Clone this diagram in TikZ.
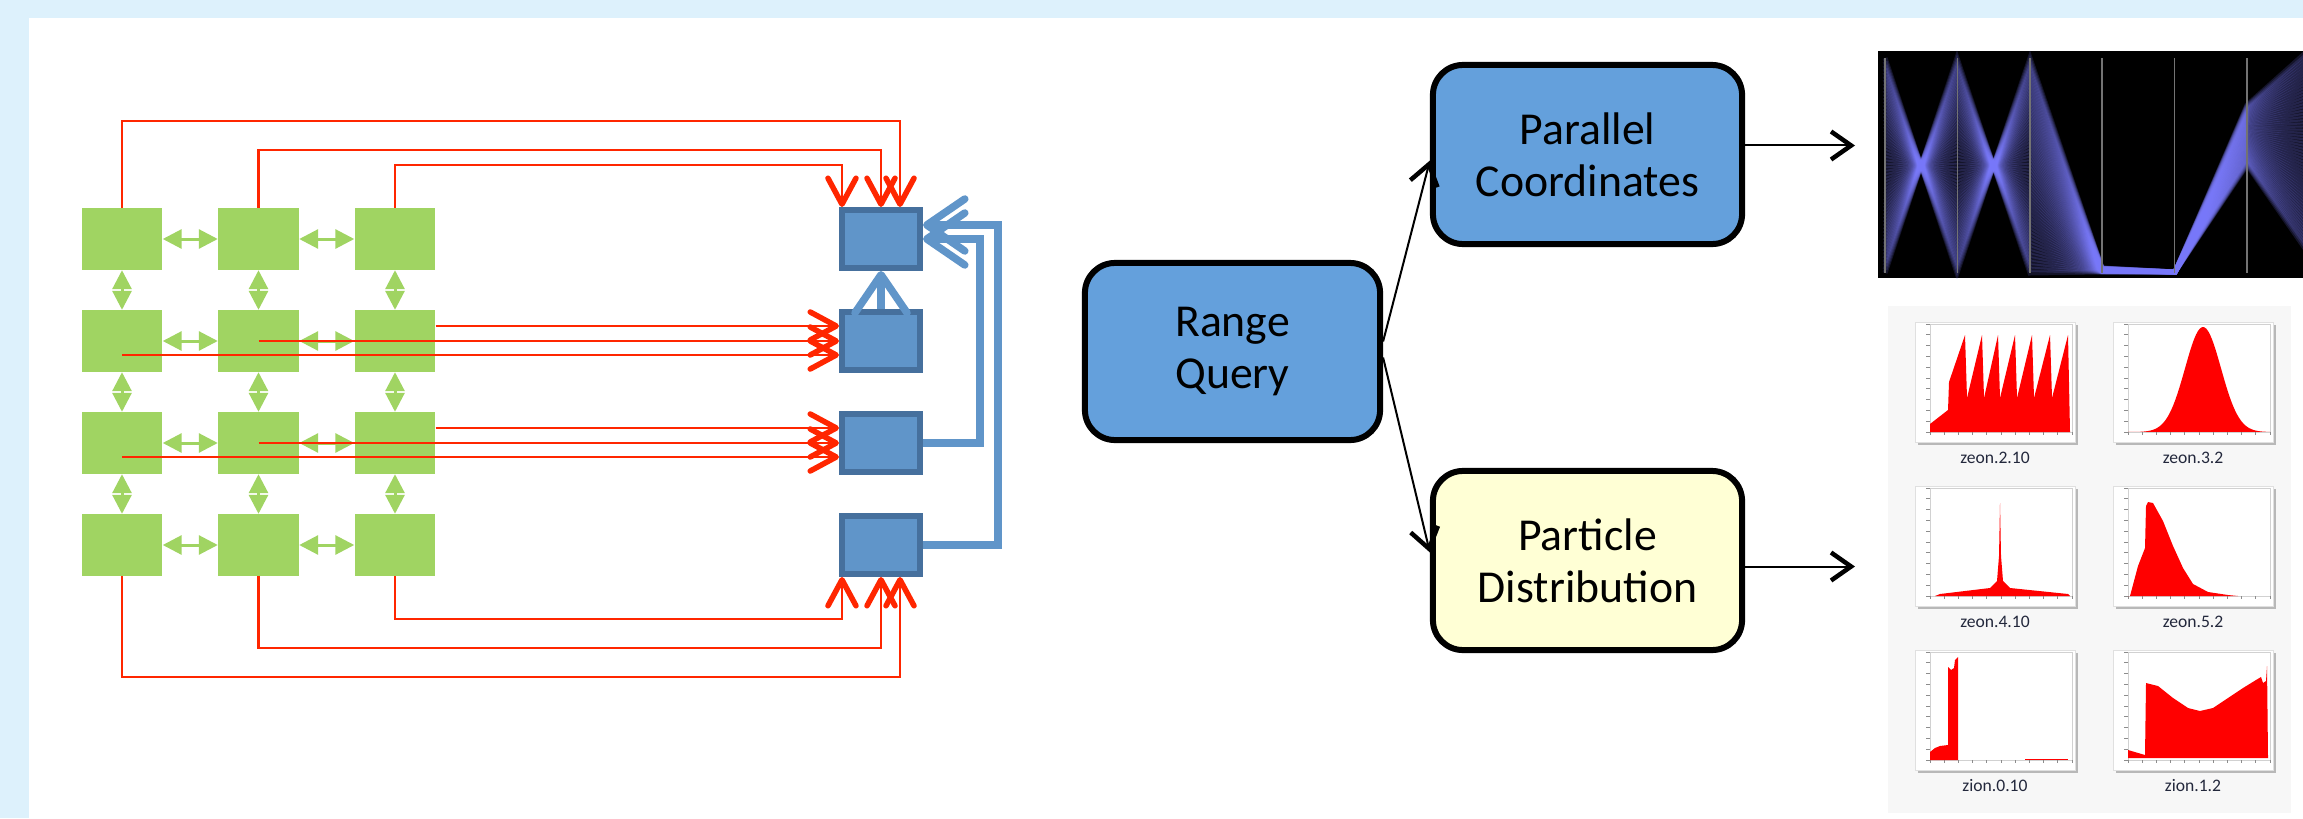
\documentclass[tikz,border=0pt]{standalone}
\usepackage{fontspec}
\setmainfont{Carlito}
\usetikzlibrary{arrows.meta,positioning}
\definecolor{bgblue}{RGB}{221,241,252}
\definecolor{gridgreen}{RGB}{160,212,98}
\definecolor{wirered}{RGB}{255,38,0}
\definecolor{procfill}{RGB}{96,149,201}
\definecolor{procdraw}{RGB}{70,112,157}
\definecolor{taskblue}{RGB}{100,160,220}
\definecolor{taskyellow}{RGB}{255,255,213}
\definecolor{pcviolet}{RGB}{125,125,255}
\definecolor{histred}{RGB}{255,0,0}
\definecolor{captiongray}{RGB}{35,40,60}
\begin{document}
\begin{tikzpicture}[x=0.01cm,y=-0.01cm,
  cell/.style={fill=gridgreen,minimum width=0.8cm,minimum height=0.61cm,inner sep=0},
  proc/.style={fill=procfill,draw=procdraw,line width=0.065cm,minimum width=0.775cm,minimum height=0.575cm,inner sep=0},
  task/.style={draw=black,line width=0.06cm,rounded corners=0.3cm,minimum width=3.09cm,minimum height=1.79cm,align=center,font=\fontsize{13}{14.8}\selectfont},
  link/.style={gridgreen,line width=0.03cm,<->,>={Triangle[length=0.19cm,width=0.19cm]}},
  feed/.style={wirered,line width=0.022cm,->,>={Straight Barb[length=0.26cm,width=0.28cm,line width=0.055cm,round]}},
  merge/.style={procfill,line width=0.075cm,->,>={Straight Barb[length=0.38cm,width=0.52cm,round]}},
  flow/.style={black,line width=0.02cm,->,>={Straight Barb[length=0.2cm,width=0.28cm,line width=0.045cm]}},
  pcline/.style={pcviolet,line width=0.05cm,opacity=0.16},
  thumbcap/.style={font=\fontsize{5}{5}\selectfont,text=captiongray}]
\useasboundingbox (0,0) rectangle (2303,818);
\fill[bgblue] (0,0) rectangle (2303,818);
\fill[white] (29,18) rectangle (2303,818);

% grid of green cells
\foreach \x in {1,...,3}
  \foreach \y in {1,...,4}
    \node[cell] (g\x\y) at ({122+136.5*(\x-1)},{239+102*(\y-1)}) {};
\foreach \x [count=\xi from 2] in {1,2}
  \foreach \y in {1,...,4}
    \draw[link] (g\x\y) -- (g\xi\y);
\foreach \x in {1,...,3}
  \foreach \y [count=\yi from 2] in {1,...,3}
    \draw[link] (g\x\y) -- (g\x\yi);

% blue column
\foreach \y in {1,...,4}
  \node[proc] (b\y) at (881,{239+102*(\y-1)}) {};

\draw[feed] (g11.north) -- ++(0,-86.5) -| ([xshift=0.19cm]b1.north);
\draw[feed] (g21.north) -- ++(0,-57.5) -| (b1.north);
\draw[feed] (g31.north) -- ++(0,-42.5) -| ([xshift=-0.39cm]b1.north);
\draw[feed] (g14.south) -- ++(0,100.5) -| ([xshift=0.19cm]b4.south);
\draw[feed] (g24.south) -- ++(0,71.5) -| (b4.south);
\draw[feed] (g34.south) -- ++(0,42.5) -| ([xshift=-0.39cm]b4.south);
\foreach \y in {2,3}{
  \draw[feed] ([yshift=0.15cm]g3\y.east) -- ([yshift=0.15cm]b\y.west);
  \draw[feed] (g2\y.center) -- (b\y.west);
  \draw[feed] ([yshift=-0.14cm]g1\y.center) -- ([yshift=-0.14cm]b\y.west);
}

\draw[merge] (b2) -- (b1);
\draw[merge] (b3.east) -- ++(57,0) |- (b1.east);
\draw[merge] (b4.east) -- ++(75,0) |- ([yshift=0.14cm]b1.east);

% query boxes
\node[task,fill=taskblue,minimum width=2.95cm,minimum height=1.77cm] (rq) at (1232.5,351.5) {Range\\Query};
\node[task,fill=taskblue] (pc) at (1587.5,154.5) {Parallel\\Coordinates};
\node[task,fill=taskyellow] (pd) at (1587.5,560.5) {Particle\\Distribution};
\draw[flow] ([yshift=0.1cm]rq.east) -- ([yshift=-0.06cm]pc.west);
\draw[flow] ([yshift=-0.06cm]rq.east) -- ([yshift=0.08cm]pd.west);

% parallel coordinates view
\node[fill=black,inner sep=0,minimum width=4.26cm,minimum height=2.27cm,anchor=north west] (pcplot) at (1877,50) {};
\begin{scope}
  \clip (pcplot.north west) rectangle (pcplot.south east);
  \foreach \t in {0,...,60}{
    \pgfmathsetmacro{\ya}{58+215*\t/60}
    \draw[pcline] (1885,\ya) -- (1957,{331-\ya}) -- (2030,\ya) -- (2102,{268+4*\t/60}) -- (2175,272)
      -- (2247,{105+60*\t/60}) -- (2320,{40+230*\t/60});
  }
  \foreach \x in {0,...,5}
    \draw[black!55,line width=0.015cm] ({1885+72.4*\x},58) -- ({1885+72.4*\x},273);
\end{scope}
\draw[flow,shorten >=0.22cm] ([yshift=0.09cm]pc.east) -- ([yshift=0.09cm]pc.east -| pcplot.west);

% histogram thumbnails
\node[fill=black!3,inner sep=0,minimum width=4.03cm,minimum height=5.07cm,anchor=north west] (hpanel) at (1887,305) {};
\draw[flow,shorten >=0.32cm] ([yshift=-0.06cm]pd.east) -- ([yshift=-0.06cm]pd.east -| hpanel.west);
\foreach \lbl [count=\i from 0] in {zeon.2.10,zeon.3.2,zeon.4.10,zeon.5.2,zion.0.10,zion.1.2}{
  \pgfmathsetmacro{\tx}{1930+198*mod(\i,2)}
  \pgfmathsetmacro{\ty}{432+164*div(\i,2)}
  \begin{scope}[shift={(\tx,\ty)},yscale=-1]
    \fill[black!28] (-12,-13) rectangle (148,107);
    \filldraw[fill=white,draw=black!12,line width=0.01cm] (-15,-10) rectangle (145,110);
    \draw[black!18,line width=0.01cm] (0,0) rectangle (142,108);
    \foreach \k in {0,...,10}
      \draw[black!45,line width=0.01cm] ({14.2*\k},0) -- ({14.2*\k},-3) (0,{10.8*\k}) -- (-4,{10.8*\k});
  \end{scope}
  \node[thumbcap] (cap\i) at ({\tx+65},{\ty+26}) {\lbl};
}
\begin{scope}[shift={(1930,432)},yscale=-1]
  \fill[histred] (0,0) -- (0,8) -- (18,22) -- (19,50) -- (35,97) -- (37,34) -- (52,97) -- (54,34) -- (68,97) -- (70,34)
    -- (85,97) -- (87,34) -- (102,97) -- (104,34) -- (120,97) -- (122,34) -- (138,97) -- (140,0) -- cycle;
\end{scope}
\begin{scope}[shift={(2128,432)},yscale=-1]
  \fill[histred] plot[domain=0:142,samples=70] (\x,{105*exp(-((\x-75)^2)/648)}) -- cycle;
\end{scope}
\begin{scope}[shift={(1930,596)},yscale=-1]
  \fill[histred] (5,0) -- (10,2) -- (60,8) -- (67,15) -- (69,40) -- (70,93) -- (71,40) -- (73,15) -- (80,8) -- (138,2) -- (140,0) -- cycle;
\end{scope}
\begin{scope}[shift={(2128,596)},yscale=-1]
  \fill[histred] (0,0) -- (2,0) -- (10,30) -- (17,48) -- (18,90) -- (20,94) -- (25,93) -- (35,75) -- (45,50) -- (55,28)
    -- (65,12) -- (80,4) -- (100,1) -- (110,0) -- cycle;
\end{scope}
\begin{scope}[shift={(1930,760)},yscale=-1]
  \fill[histred] (0,0) -- (0,8) -- (5,12) -- (10,14) -- (18,15) -- (18,93) -- (21,90) -- (24,92) -- (25,100) -- (28,103) -- (28,0) -- cycle;
  \draw[histred,line width=0.01cm] (95,1) -- (138,1);
\end{scope}
\begin{scope}[shift={(2128,758)},yscale=-1]
  \fill[histred] (0,0) -- (0,8) -- (17,3) -- (18,75) -- (30,72) -- (45,60) -- (60,50) -- (72,47) -- (85,50) -- (100,60)
    -- (115,70) -- (128,78) -- (133,81) -- (135,75) -- (138,77) -- (139,92) -- (140,0) -- cycle;
\end{scope}
\end{tikzpicture}
\end{document}
